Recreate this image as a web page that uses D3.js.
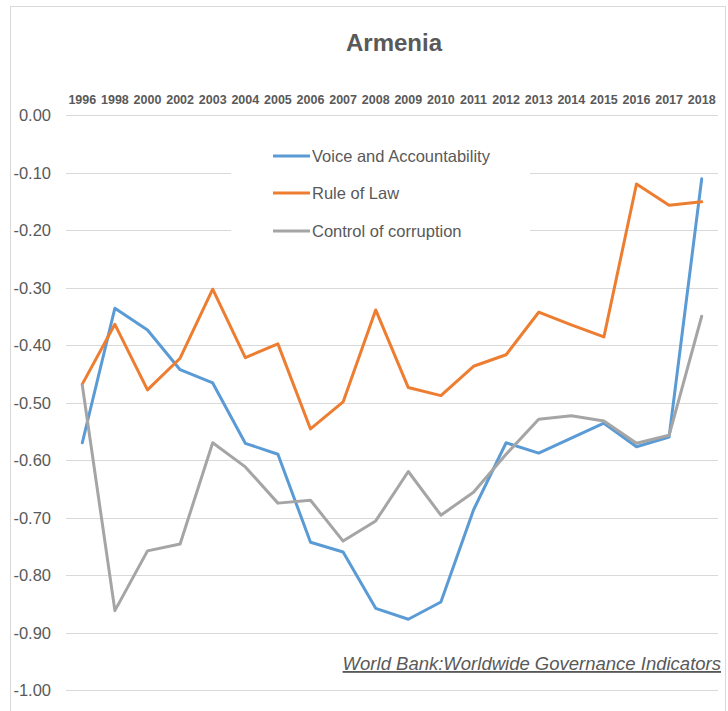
<!DOCTYPE html>
<html>
<head>
<meta charset="utf-8">
<script src="https://cdn.jsdelivr.net/npm/d3@7"></script>
<style>
  html, body { margin: 0; padding: 0; background: #fff; }
  svg { display: block; font-family: "Liberation Sans", Arial, sans-serif; }
</style>
</head>
<body>
<svg id="chart" width="728" height="711"></svg>
<script>
// Worldwide Governance Indicators for Armenia, estimate scores by year
const years = ["1996","1998","2000","2002","2003","2004","2005","2006","2007","2008",
               "2009","2010","2011","2012","2013","2014","2015","2016","2017","2018"];

const voiceAccountability = [-0.570, -0.336, -0.374, -0.443, -0.466, -0.571, -0.590, -0.743, -0.760, -0.858,
                             -0.877, -0.847, -0.687, -0.570, -0.588, -0.562, -0.536, -0.577, -0.560, -0.111];

const ruleOfLaw = [-0.468, -0.364, -0.478, -0.423, -0.303, -0.422, -0.398, -0.546, -0.499, -0.339,
                   -0.474, -0.488, -0.437, -0.417, -0.343, -0.365, -0.386, -0.120, -0.157, -0.151];

const controlOfCorruption = [-0.470, -0.862, -0.758, -0.746, -0.570, -0.612, -0.675, -0.670, -0.741, -0.706,
                             -0.620, -0.696, -0.656, -0.590, -0.529, -0.523, -0.532, -0.571, -0.557, -0.350];

const seriesNames = ["Voice and Accountability", "Rule of Law", "Control of corruption"];
const seriesColors = ["#5B9BD5", "#ED7D31", "#A5A5A5"];
const yTicks = [0, -0.1, -0.2, -0.3, -0.4, -0.5, -0.6, -0.7, -0.8, -0.9, -1.0];

const series = [voiceAccountability, ruleOfLaw, controlOfCorruption].map((vals, i) => ({
  name: seriesNames[i],
  color: seriesColors[i],
  values: vals
}));

const svg = d3.select("#chart");
const textColor = "#595959";

// outer chart frame
svg.append("rect")
  .attr("x", 10.5).attr("y", 6.5)
  .attr("width", 715).attr("height", 720)
  .attr("fill", "#fff")
  .attr("stroke", "#D9D9D9");

const plot = { left: 66, right: 718, top: 115, bottom: 690 };

const x = d3.scaleBand().domain(years).range([plot.left, plot.right]).padding(0);
const y = d3.scaleLinear().domain([-1, 0]).range([plot.bottom, plot.top]);
const xc = d => x(d) + x.bandwidth() / 2;

// title
svg.append("text")
  .attr("x", 394).attr("y", 51)
  .attr("text-anchor", "middle")
  .attr("font-size", 24).attr("font-weight", "bold")
  .attr("fill", textColor)
  .text("Armenia");

// horizontal gridlines
svg.append("g")
  .selectAll("line")
  .data(yTicks)
  .join("line")
  .attr("x1", plot.left).attr("x2", plot.right)
  .attr("y1", d => Math.round(y(d)) + 0.5).attr("y2", d => Math.round(y(d)) + 0.5)
  .attr("stroke", "#D9D9D9").attr("stroke-width", 1);

// y axis labels
const yAxis = svg.append("g")
  .attr("transform", `translate(${plot.left},0)`)
  .call(d3.axisLeft(y).tickValues(yTicks).tickSize(0).tickPadding(15)
        .tickFormat(d => d.toFixed(2)));
yAxis.select(".domain").remove();
yAxis.selectAll("text")
  .attr("font-size", 16.5).attr("font-family", "Liberation Sans, Arial, sans-serif")
  .attr("fill", textColor).attr("dy", "0.36em");

// year labels along the top
const xAxis = svg.append("g")
  .attr("transform", `translate(0,${plot.top})`)
  .call(d3.axisTop(x).tickSize(0).tickPadding(11));
xAxis.select(".domain").remove();
xAxis.selectAll("text")
  .attr("font-size", 12.5).attr("font-weight", "bold")
  .attr("font-family", "Liberation Sans, Arial, sans-serif")
  .attr("fill", textColor);

// series lines
const line = d3.line()
  .x((d, i) => xc(years[i]))
  .y(d => y(d));

svg.append("g")
  .selectAll("path")
  .data(series)
  .join("path")
  .attr("d", d => line(d.values))
  .attr("fill", "none")
  .attr("stroke", d => d.color)
  .attr("stroke-width", 3)
  .attr("stroke-linejoin", "round")
  .attr("stroke-linecap", "round");

// legend
const legend = svg.append("g");
legend.append("rect")
  .attr("x", 231).attr("y", 138)
  .attr("width", 299).attr("height", 112)
  .attr("fill", "#fff");
const legendRows = [156, 193, 231];
const items = legend.selectAll("g.item")
  .data(series)
  .join("g")
  .attr("class", "item")
  .attr("transform", (d, i) => `translate(0,${legendRows[i]})`);
items.append("line")
  .attr("x1", 273).attr("x2", 310)
  .attr("y1", 0).attr("y2", 0)
  .attr("stroke", d => d.color)
  .attr("stroke-width", 3);
items.append("text")
  .attr("x", 312).attr("y", 0).attr("dy", "0.36em")
  .attr("font-size", 16.5)
  .attr("fill", textColor)
  .text(d => d.name);

// source note
svg.append("text")
  .attr("x", 721).attr("y", 670)
  .attr("text-anchor", "end")
  .attr("font-size", 18.5).attr("font-style", "italic")
  .attr("text-decoration", "underline")
  .attr("fill", textColor)
  .text("World Bank:Worldwide Governance Indicators");
</script>
</body>
</html>
